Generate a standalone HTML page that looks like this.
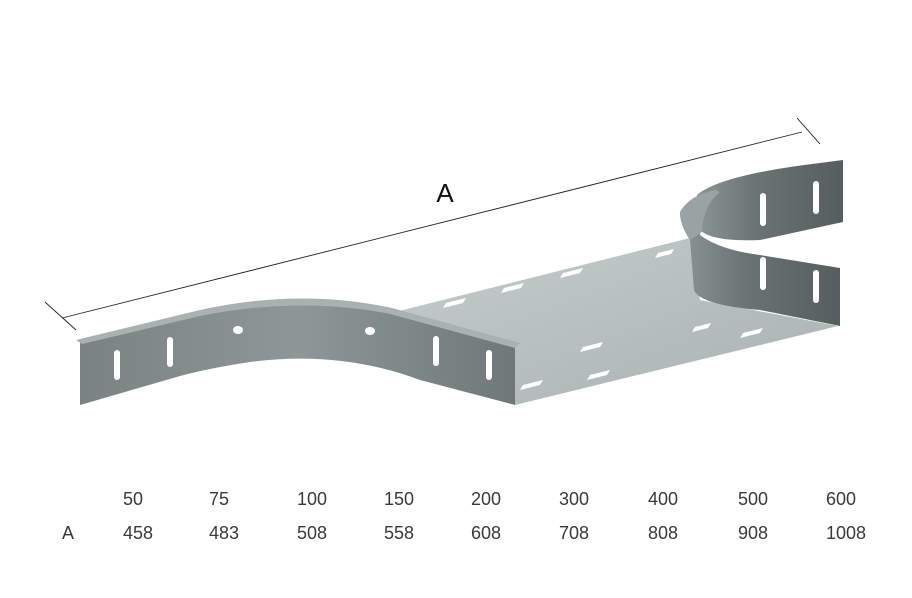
<!DOCTYPE html>
<html><head><meta charset="utf-8"><style>
html,body{margin:0;padding:0;background:#fff;}
body{width:912px;height:598px;position:relative;overflow:hidden;font-family:"Liberation Sans",sans-serif;}
svg{position:absolute;left:0;top:0;}
</style></head><body>
<svg width="912" height="598" viewBox="0 0 912 598">
<defs>
<linearGradient id="floor" x1="0" y1="0" x2="1" y2="1">
<stop offset="0" stop-color="#c6cccc"/><stop offset="0.6" stop-color="#b4bcbc"/><stop offset="1" stop-color="#a9b2b2"/>
</linearGradient>
<linearGradient id="lw" x1="0" y1="0" x2="1" y2="0">
<stop offset="0" stop-color="#7a8282"/><stop offset="0.5" stop-color="#8e9797"/><stop offset="1" stop-color="#6f7878"/>
</linearGradient>
<linearGradient id="rw" x1="0" y1="0" x2="1" y2="0">
<stop offset="0" stop-color="#8c9595"/><stop offset="0.4" stop-color="#6b7474"/><stop offset="1" stop-color="#555d5e"/>
</linearGradient>
</defs>
<line x1="62" y1="318" x2="802" y2="132" stroke="#222" stroke-width="0.9"/>
<line x1="45" y1="302" x2="76" y2="330" stroke="#222" stroke-width="0.9"/>
<line x1="797" y1="118" x2="820" y2="144" stroke="#222" stroke-width="0.9"/>
<text x="445" y="202" font-size="26" text-anchor="middle" fill="#111">A</text>
<path d="M697,195 Q720,175 820,163 L843,160 L843,222 L760,240 Q712,242 700,230 Z" fill="url(#rw)"/>
<path d="M395,312 L690,238 L700,300 L838,326 L515,405 Q470,385 430,360 Z" fill="url(#floor)"/>
<path d="M680,212 Q690,195 715,190 Q700,205 700,235 Q720,250 760,255 L840,268 L840,326 L760,310 Q700,305 694,290 L690,240 Q680,225 680,212 Z" fill="url(#rw)"/>
<path d="M680,212 Q690,195 715,190 L720,192 Q703,205 702,232 L690,240 Q680,225 680,212 Z" fill="#9aa3a3"/>
<path d="M80,340 L200,312 Q300,290 390,310 L515,345 L515,405 L420,380 Q340,350 250,362 Q210,368 180,376 L80,405 Z" fill="url(#lw)"/>
<path d="M76,340 L200,310 Q300,288 392,308 L520,343 L515,348 L390,314 Q300,296 200,316 L82,344 Z" fill="#a9b1b1"/>
<g fill="#fff">
<rect x="114" y="350" width="6" height="30" rx="3"/>
<rect x="167" y="337" width="6" height="30" rx="3"/>
<rect x="433" y="336" width="6" height="30" rx="3"/>
<rect x="486" y="350" width="6" height="30" rx="3"/>
<ellipse cx="238" cy="330" rx="5" ry="4"/>
<ellipse cx="370" cy="331" rx="5" ry="4"/>
<rect x="760" y="193" width="6" height="33" rx="3"/>
<rect x="813" y="181" width="6" height="33" rx="3"/>
<rect x="760" y="257" width="6" height="33" rx="3"/>
<rect x="813" y="270" width="6" height="33" rx="3"/>
<path d="M446,303 l20,-5 l-3,5 l-20,5z"/>
<path d="M504,288 l20,-5 l-3,5 l-20,5z"/>
<path d="M563,273 l20,-5 l-3,5 l-20,5z"/>
<path d="M658,253 l16,-4 l-3,5 l-16,4z"/>
<path d="M583,347 l20,-5 l-3,5 l-20,5z"/>
<path d="M590,375 l20,-5 l-3,5 l-20,5z"/>
<path d="M523,385 l20,-5 l-3,5 l-20,5z"/>
<path d="M743,333 l20,-5 l-3,5 l-20,5z"/>
<path d="M695,327 l16,-4 l-3,5 l-16,4z"/>
</g>
<g font-size="18" fill="#3a3a3a">
<text x="123" y="505">50</text><text x="209" y="505">75</text><text x="297" y="505">100</text><text x="384" y="505">150</text><text x="471" y="505">200</text><text x="559" y="505">300</text><text x="648" y="505">400</text><text x="738" y="505">500</text><text x="826" y="505">600</text>
<text x="62" y="539">A</text>
<text x="123" y="539">458</text><text x="209" y="539">483</text><text x="297" y="539">508</text><text x="384" y="539">558</text><text x="471" y="539">608</text><text x="559" y="539">708</text><text x="648" y="539">808</text><text x="738" y="539">908</text><text x="826" y="539">1008</text>
</g>
</svg>
</body></html>
